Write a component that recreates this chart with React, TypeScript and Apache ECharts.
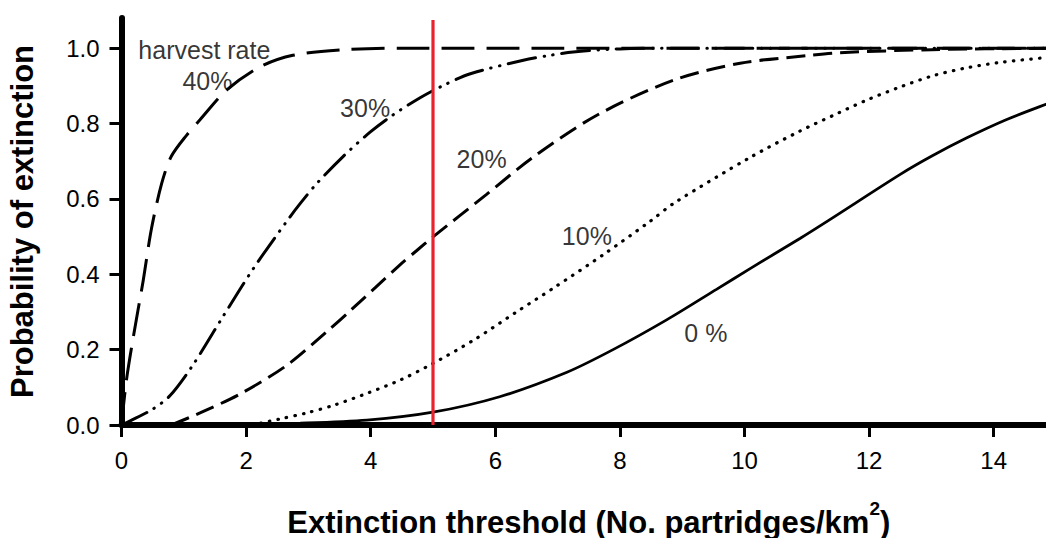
import React, { useEffect, useRef } from "react";
import * as echarts from "echarts";

// Tick values shown on each axis
const xTicks = [0, 2, 4, 6, 8, 10, 12, 14];
const yTicks = [0, 0.2, 0.4, 0.6, 0.8, 1.0];

// Probability of extinction vs. extinction threshold, one curve per harvest rate
const rate0: [number, number][] = [
  [1.5, 0], [2.87, 0.005], [3.94, 0.013], [5.0, 0.034], [6.07, 0.075], [7.15, 0.14],
  [7.89, 0.2], [8.75, 0.279], [9.55, 0.36], [10.09, 0.415], [10.89, 0.495],
  [11.37, 0.545], [12.5, 0.665], [13.0, 0.713], [13.57, 0.762], [14.2, 0.81],
  [14.84, 0.851], [15.0, 0.86],
];
const rate10: [number, number][] = [
  [2.1, 0], [2.54, 0.016], [2.97, 0.032], [3.4, 0.052], [3.94, 0.084], [4.47, 0.119],
  [4.95, 0.159], [5.65, 0.225], [6.34, 0.3], [6.93, 0.363], [7.76, 0.455], [8.48, 0.54],
  [8.88, 0.59], [10.09, 0.71], [10.89, 0.78], [11.43, 0.822], [11.96, 0.862],
  [12.5, 0.897], [13.03, 0.927], [13.57, 0.948], [14.1, 0.962], [14.84, 0.975], [15.0, 0.977],
];
const rate20: [number, number][] = [
  [0.8, 0], [1.26, 0.032], [1.9, 0.082], [2.65, 0.158], [3.29, 0.247], [3.67, 0.303],
  [4.47, 0.425], [4.74, 0.463], [5.0, 0.499], [5.86, 0.612], [6.61, 0.711],
  [7.63, 0.822], [8.86, 0.915], [9.93, 0.96], [11.0, 0.98], [11.53, 0.988], [13.0, 0.996],
  [15.0, 1.0],
];
const rate30: [number, number][] = [
  [0, 0], [0.14, 0.011], [0.5, 0.042], [0.78, 0.078], [1.15, 0.16], [1.63, 0.288],
  [2.12, 0.416], [2.65, 0.54], [2.87, 0.588], [3.13, 0.64], [3.56, 0.713], [3.99, 0.777],
  [4.36, 0.823], [4.8, 0.869], [5.14, 0.899], [5.6, 0.932], [6.45, 0.968], [6.88, 0.981],
  [7.25, 0.99], [8.0, 0.998], [9.0, 1.0], [15.0, 1.0],
];
const rate40: [number, number][] = [
  [0, 0], [0.08, 0.12], [0.19, 0.234], [0.35, 0.385], [0.48, 0.52], [0.645, 0.641],
  [0.8, 0.713], [1.05, 0.77], [1.26, 0.81], [1.69, 0.889], [2.22, 0.95], [2.75, 0.981],
  [3.5, 0.995], [4.5, 1.0], [15.0, 1.0],
];

// Reference threshold marked in red
const thresholdX = 5;
const thresholdTop = 1.075;

// Curve annotations, anchored in data units
const noteText = ["harvest rate", "40%", "30%", "20%", "10%", "0 %"];
const noteX = [1.33, 1.38, 3.91, 5.78, 7.47, 9.38];
const noteY = [0.995, 0.912, 0.842, 0.706, 0.502, 0.244];

const FONT = "'Liberation Sans', Arial, Helvetica, sans-serif";

function curve(data: [number, number][], lineStyle: Record<string, unknown>) {
  return {
    type: "line",
    data,
    symbol: "none",
    smooth: 0.3,
    clip: true,
    silent: true,
    lineStyle: { color: "#000", width: 3, ...lineStyle },
  };
}

export default function App() {
  const ref = useRef<HTMLDivElement>(null);

  useEffect(() => {
    if (!ref.current) return;
    const chart = echarts.init(ref.current, undefined, { renderer: "svg" });

    const option = {
      animation: false,
      backgroundColor: "#ffffff",
      grid: {
        left: 121.5,
        right: -10,
        top: 18,
        bottom: 113,
        containLabel: false,
        outerBoundsMode: "none",
      },
      xAxis: {
        type: "value",
        min: 0,
        max: 15,
        interval: 2,
        axisLine: { show: true, onZero: false, lineStyle: { color: "#000", width: 6, cap: "round" } },
        axisTick: { show: true, length: 12, customValues: xTicks, lineStyle: { color: "#000", width: 3 } },
        axisLabel: { color: "#000", fontSize: 24, fontFamily: FONT, margin: 23, customValues: xTicks },
        splitLine: { show: false },
        name: "Extinction threshold (No. partridges/km{sup|2})",
        nameLocation: "middle",
        nameGap: 74,
        nameTextStyle: {
          fontSize: 31,
          fontWeight: "bold",
          color: "#000",
          fontFamily: FONT,
          lineHeight: 46,
          rich: {
            sup: { fontSize: 19, fontWeight: "bold", color: "#000", fontFamily: FONT, verticalAlign: "top" },
          },
        },
      },
      yAxis: {
        type: "value",
        min: 0,
        max: 1.08,
        interval: 0.2,
        axisLine: { show: true, onZero: false, lineStyle: { color: "#000", width: 6, cap: "round" } },
        axisTick: { show: true, length: 12, customValues: yTicks, lineStyle: { color: "#000", width: 3 } },
        axisLabel: {
          color: "#000",
          fontSize: 24,
          fontFamily: FONT,
          margin: 22,
          customValues: yTicks,
          formatter: (v: number) => v.toFixed(1),
        },
        splitLine: { show: false },
        name: "Probability of extinction",
        nameLocation: "middle",
        nameGap: 84,
        nameTextStyle: { fontSize: 31, fontWeight: "bold", color: "#000", fontFamily: FONT },
      },
      series: [
        curve(rate0, { type: "solid", width: 2.8 }),
        curve(rate10, { type: [0.5, 8.2], cap: "round", width: 3.2 }),
        curve(rate20, { type: [19, 8], cap: "butt" }),
        curve(rate30, { type: [28, 8.5, 0.5, 8.5, 0.5, 8.5], cap: "round", width: 3 }),
        curve(rate40, { type: [33, 12], cap: "butt" }),
        {
          type: "scatter",
          silent: true,
          symbolSize: 1,
          itemStyle: { color: "rgba(0,0,0,0)" },
          label: {
            show: true,
            position: "inside",
            formatter: "{b}",
            color: "#000",
            fontSize: 25,
            fontFamily: FONT,
          },
          data: noteText.map((t, i) => ({ name: t, value: [noteX[i], noteY[i]] })),
          z: 4,
        },
        {
          type: "line",
          silent: true,
          symbol: "none",
          data: [
            [thresholdX, 0],
            [thresholdX, thresholdTop],
          ],
          lineStyle: { color: "#e8232e", width: 3.2 },
          z: 5,
        },
      ],
    };

    chart.setOption(option as any);
    return () => chart.dispose();
  }, []);

  return (
    <div
      ref={ref}
      style={{ position: "absolute", left: 0, top: 0, width: 1046, height: 538, background: "#fff" }}
    />
  );
}
